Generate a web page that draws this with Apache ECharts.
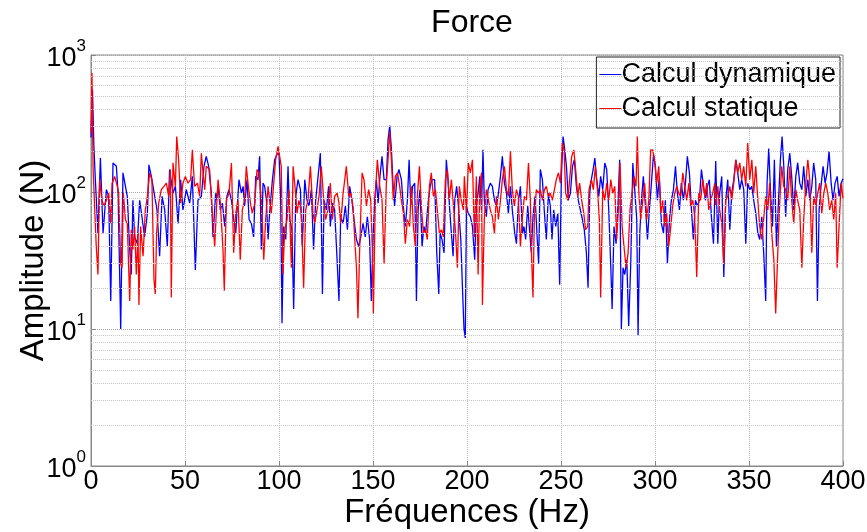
<!DOCTYPE html>
<html>
<head>
<meta charset="utf-8">
<script src="https://cdn.jsdelivr.net/npm/echarts@6/dist/echarts.min.js"></script>
<style>
  html, body { margin: 0; padding: 0; background: #fff; }
  #chart { width: 867px; height: 532px; }
</style>
</head>
<body>
<div id="chart"></div>
<script>
// values (Hz, N)
var dynFreq = [0, 0.8, 1.5, 2.3, 3.7, 5.0, 6.4, 8.2, 9.4, 10.5, 11.7, 13.5, 14.4, 15.8, 17.0, 17.9, 19.3, 20.6, 21.4, 22.3, 23.2, 24.6, 25.9, 27.1, 28.5, 30.0, 30.8, 32.1, 33.9, 35.1, 36.5, 37.8, 39.2, 40.6, 41.8, 43.6, 44.9, 46.3, 47.7, 48.9, 50.7, 52.5, 53.9, 55.5, 56.9, 58.7, 60.1, 61.3, 62.6, 64.0, 64.9, 66.3,
  66.7, 67.6, 68.8, 69.9, 71.1, 72.3, 73.4, 74.7, 75.9, 77.0, 77.7, 78.7, 80.0, 80.9, 81.7, 83.0, 84.1, 85.3, 86.5, 87.6, 88.8, 89.7, 90.6, 91.5, 92.4, 93.3, 94.2, 95.0, 96.5, 97.7, 98.9, 100.0, 100.9, 101.6, 102.5, 103.6, 104.8, 105.7, 106.9, 107.8, 108.9, 110.1, 111.4, 112.4, 113.7, 114.9, 116.0, 117.2, 118.4, 119.5, 120.8, 122.0, 123.1, 124.0, 125.2, 126.4, 127.3, 128.4, 129.6, 130.9, 131.9,
  132.8, 134.1, 135.3, 136.4, 137.6, 138.8, 139.9, 141.2, 142.4, 143.5, 144.7, 145.9, 147.0, 148.2, 149.1, 150.0, 150.9, 151.8, 152.7, 153.7, 154.8, 155.9, 157.1, 158.0, 158.9, 159.8, 160.7, 161.5, 162.8, 163.8, 165.1, 166.3, 167.2, 168.3, 169.2, 170.1, 171.1, 172.2, 173.1, 174.0, 175.0, 176.1, 177.1, 178.0, 179.3, 180.4, 181.4, 182.8, 183.9, 185.0, 185.7, 186.7, 187.8, 189.0, 189.9, 190.8, 191.7, 192.6, 193.5, 194.5, 195.6, 196.7, 197.7, 198.4, 199.1,
  199.7, 200.6, 201.8, 202.9, 204.1, 205.0, 205.9, 206.8, 207.7, 208.5, 209.2, 210.3, 211.2, 212.4, 213.5, 214.6, 215.6, 216.5, 217.8, 218.8, 219.9, 221.0, 222.0, 223.1, 224.1, 225.4, 226.3, 227.3, 228.4, 229.5, 230.3, 231.2, 232.3, 233.4, 234.2, 235.1, 236.2, 237.3, 238.1, 239.0, 240.1, 241.2, 242.2, 243.3, 244.3, 245.2, 246.1, 247.2, 248.3, 249.3, 250.2, 251.1, 252.0, 252.9, 253.9, 255.0, 256.1, 257.1, 258.2, 259.2, 260.3, 261.4, 262.4, 263.5, 264.4,
  265.3, 265.8, 267.1, 268.0, 268.8, 270.1, 271.1, 272.2, 273.3, 274.3, 275.4, 276.5, 277.2, 278.2, 279.3, 280.4, 281.2, 282.1, 283.0, 283.9, 285.0, 286.0, 287.1, 288.2, 289.2, 290.3, 291.0, 291.9, 292.8, 293.8, 294.9, 296.0, 297.0, 298.1, 299.2, 300.2, 301.3, 302.3, 303.4, 304.5, 305.5, 306.6, 307.7, 308.7, 309.8, 310.9, 311.9, 313.0, 314.0, 315.1, 316.2, 317.2, 318.3, 319.4, 320.4, 321.5, 322.6, 323.6, 324.7, 325.8, 326.8, 327.9, 328.9, 330.0, 331.1,
  332.3, 333.4, 334.4, 335.5, 336.6, 337.6, 338.7, 339.8, 340.8, 341.9, 343.0, 344.0, 345.1, 346.1, 347.2, 348.3, 349.3, 350.4, 351.5, 352.5, 353.6, 354.7, 355.7, 356.8, 357.9, 358.9, 359.6, 360.5, 361.4, 362.5, 363.5, 364.6, 365.7, 366.7, 367.6, 368.5, 369.5, 370.6, 371.7, 372.7, 373.8, 374.9, 375.9, 377.0, 378.1, 379.1, 380.2, 381.3, 382.3, 383.4, 384.4, 385.5, 386.4, 387.3, 388.3, 389.4, 390.5, 391.5, 392.6, 393.7, 394.7, 395.8, 396.9, 397.9, 399.0, 400];
var dynAmp = [250, 560, 220, 125, 50, 177, 50, 104, 93, 16, 163, 154, 98, 10, 138, 142, 93, 38, 25, 87, 47, 42, 87, 66, 47, 70, 158, 130, 93, 74, 34, 93, 74, 40, 146, 98, 110, 59, 123, 74, 104, 83, 130, 27, 87, 93, 154, 182, 154, 98, 47, 98,
  87, 110, 74, 83, 56, 93, 104, 87, 63, 50, 74, 123, 98, 110, 79, 123, 63, 59, 47, 130, 123, 182, 38, 116, 110, 87, 45, 70, 123, 172, 188, 192, 87, 11, 56, 45, 154, 63, 53, 14, 93, 123, 104, 40, 123, 87, 79, 104, 38, 87, 130, 192, 18, 87, 74, 110, 56, 83, 74, 32, 16,
  66, 59, 79, 53, 110, 87, 63, 45, 40, 47, 59, 47, 66, 45, 16, 45, 87, 123, 83, 130, 182, 123, 123, 240, 305, 203, 110, 79, 130, 146, 123, 74, 56, 87, 172, 79, 110, 116, 16, 74, 104, 40, 56, 50, 83, 110, 123, 123, 36, 18, 50, 45, 36, 172, 123, 74, 50, 34, 87, 110, 74, 45, 18, 10, 8.6,
  79, 70, 66, 56, 32, 79, 98, 130, 74, 203, 87, 66, 104, 116, 110, 87, 79, 93, 130, 182, 116, 98, 70, 110, 74, 50, 42, 83, 110, 50, 56, 45, 79, 50, 36, 66, 93, 47, 30, 146, 123, 70, 45, 98, 79, 45, 74, 56, 70, 21, 130, 254, 203, 154, 87, 98, 154, 172, 110, 87, 74, 63, 53, 36, 20,
  98, 116, 146, 177, 130, 93, 130, 104, 163, 146, 74, 28, 14, 56, 42, 87, 172, 10, 28, 25, 32, 10.5, 30, 163, 104, 63, 9, 50, 87, 130, 79, 45, 74, 116, 188, 154, 87, 130, 59, 50, 87, 30, 63, 87, 104, 154, 98, 74, 116, 87, 116, 182, 138, 74, 45, 87, 79, 87, 146, 110, 87, 110, 123, 66, 42,
  168, 42, 98, 130, 24, 87, 123, 53, 98, 123, 172, 138, 104, 123, 104, 42, 116, 104, 110, 87, 70, 50, 45, 66, 34, 16, 116, 208, 104, 56, 172, 40, 87, 172, 254, 154, 66, 146, 192, 130, 74, 130, 163, 116, 104, 154, 93, 123, 87, 110, 163, 123, 16, 74, 110, 154, 116, 138, 198, 116, 87, 116, 130, 93, 116, 125];

var statFreq = [0, 0.5, 1.1, 2.0, 2.8, 3.7, 4.6, 5.8, 6.9, 8.2, 9.4, 10.5, 11.2, 12.6, 14.0, 14.7, 15.8, 16.5, 17.2, 18.3, 19.3, 20.6, 21.4, 22.3, 23.2, 24.1, 25.0, 25.5, 26.4, 27.7, 28.9, 30.0, 31.2, 32.4, 33.5, 34.2, 34.9, 36.0, 37.4, 38.8, 40.1, 41.3, 42.2, 42.7, 43.6, 44.9, 45.6, 46.6, 47.7, 48.9, 50.2, 51.6, 53.0, 53.9, 55.1, 56.6, 57.8, 58.7, 59.6, 60.5, 61.3, 63.1, 64.4, 65.8,
  66.7, 67.6, 68.8, 70.2, 70.9, 72.0, 73.4, 74.7, 75.9, 77.0, 78.2, 79.4, 80.5, 81.7, 82.6, 83.7, 84.8, 85.8, 87.1, 88.3, 89.4, 90.6, 91.9, 92.9, 94.2, 95.0, 95.9, 97.2, 98.2, 99.5, 100.4, 101.2, 102.1, 103.0, 104.3, 105.3, 106.6, 107.5, 108.5, 109.6, 110.6, 111.9, 113.1, 114.2, 115.4, 116.7, 118.1, 119.0, 120.2, 121.3, 122.5, 123.8, 124.8, 126.1, 127.3, 128.4, 129.6, 130.9,
  131.9, 132.8, 134.1, 135.0, 135.8, 137.1, 138.1, 139.4, 140.3, 141.2, 142.0, 142.9, 144.2, 145.2, 146.5, 147.7, 148.8, 149.7, 150.2, 151.3, 152.3, 153.6, 154.8, 155.9, 157.1, 158.0, 158.9, 159.8, 160.8, 161.9, 163.0, 164.2, 165.1, 166.2, 167.2, 168.3, 169.5, 170.4, 171.5, 172.5, 173.6, 174.7, 175.7, 176.8, 177.9, 178.9, 180.0, 181.0, 182.1, 183.2, 184.2, 185.3, 186.4, 187.4, 188.5, 189.6, 190.6, 191.7, 192.8, 193.8, 194.9, 195.9, 197.0, 198.1,
  198.6, 199.7, 200.7, 201.8, 202.9, 203.9, 205.0, 205.9, 206.8, 207.7, 208.2, 209.2, 210.3, 211.4, 212.4, 213.5, 214.6, 215.6, 216.7, 217.8, 218.8, 219.9, 221.0, 222.0, 223.1, 224.1, 225.2, 226.3, 227.3, 228.4, 229.5, 230.5, 231.6, 232.7, 233.7, 234.4, 235.1, 235.8, 236.9, 237.9, 239.0, 240.1, 241.2, 242.2, 243.3, 244.3, 245.4, 246.5, 247.5, 248.6, 249.7, 250.7, 251.6, 252.5, 253.6, 254.6, 255.7, 256.8, 257.8, 258.9, 259.9, 261.0, 262.1, 263.1, 264.2,
  264.9, 266.2, 267.2, 268.3, 269.4, 270.4, 271.1, 272.2, 273.3, 274.3, 275.4, 276.5, 277.5, 278.6, 279.6, 280.7, 281.4, 282.5, 283.5, 284.6, 285.7, 286.7, 287.8, 288.9, 289.9, 290.6, 291.4, 292.4, 293.5, 294.5, 295.6, 296.7, 297.7, 298.8, 299.9, 300.9, 302.0, 303.1, 304.1, 305.2, 306.2, 307.3, 308.4, 309.4, 310.5, 311.6, 312.6, 313.7, 314.8, 315.8, 316.9, 318.0, 319.0, 320.1, 321.1, 322.2, 323.3, 324.3, 325.4, 326.5, 327.5, 328.6, 329.6, 330.7,
  331.8, 332.3, 333.4, 334.4, 335.5, 336.6, 337.6, 338.7, 339.8, 340.8, 341.9, 343.0, 344.0, 345.1, 346.1, 347.2, 348.3, 349.3, 350.4, 351.5, 352.5, 353.6, 354.7, 355.7, 356.8, 357.9, 358.9, 360.0, 361.0, 362.1, 363.2, 364.2, 365.3, 366.4, 367.4, 368.5, 369.5, 370.6, 371.7, 372.7, 373.8, 374.9, 375.9, 377.0, 378.1, 379.1, 380.2, 381.3, 382.3, 383.4, 384.4, 385.5, 386.6, 387.6, 388.7, 389.8, 390.8, 391.9, 392.9, 394.0, 395.1, 396.1, 396.9, 397.9, 399.0, 400];
var statAmp = [270, 740, 150, 74, 40, 25, 123, 87, 79, 87, 98, 59, 116, 130, 110, 98, 30, 28, 98, 63, 59, 16, 53, 38, 56, 25, 50, 15, 56, 34, 74, 93, 138, 123, 23, 18, 50, 83, 104, 110, 116, 93, 146, 17, 163, 110, 254, 172, 83, 116, 130, 116, 123, 203, 110, 116, 93, 192, 138, 104, 154, 146, 74, 40,
  74, 123, 83, 38, 19, 87, 98, 163, 36, 70, 87, 32, 74, 87, 154, 110, 83, 70, 83, 146, 138, 87, 32, 63, 110, 87, 70, 116, 172, 215, 210, 154, 25, 53, 63, 104, 28, 154, 110, 70, 87, 70, 20, 74, 87, 154, 70, 59, 74, 93, 154, 87, 63, 74, 116, 63, 93, 98,
  83, 59, 98, 123, 154, 93, 98, 79, 45, 28, 12, 38, 138, 123, 79, 104, 87, 36, 13, 98, 172, 110, 87, 30, 116, 172, 275, 172, 87, 130, 138, 110, 87, 70, 42, 63, 56, 110, 56, 40, 93, 154, 79, 50, 53, 45, 110, 138, 93, 104, 74, 50, 53, 47, 123, 146, 87, 123, 79, 53, 28, 110, 87, 74,
  130, 70, 163, 138, 172, 47, 130, 25, 110, 138, 15, 63, 104, 87, 74, 66, 50, 93, 63, 87, 123, 154, 104, 93, 198, 104, 79, 104, 93, 40, 66, 93, 87, 163, 87, 32, 17, 63, 104, 98, 104, 87, 104, 110, 93, 98, 87, 104, 123, 138, 116, 228, 203, 98, 87, 123, 182, 203, 146, 93, 116, 87, 70, 53, 56,
  104, 123, 104, 154, 104, 63, 17, 104, 87, 116, 87, 123, 98, 110, 45, 83, 163, 56, 40, 28, 36, 74, 98, 130, 110, 254, 98, 63, 87, 116, 63, 87, 203, 203, 163, 116, 154, 70, 87, 56, 70, 40, 56, 79, 98, 110, 98, 93, 138, 110, 87, 116, 79, 87, 66, 24, 98, 87, 123, 93, 116, 74, 87, 98,
  116, 79, 110, 74, 59, 30, 87, 93, 110, 87, 116, 172, 138, 163, 123, 154, 110, 228, 123, 172, 98, 154, 87, 56, 45, 66, 93, 74, 116, 50, 32, 13, 36, 87, 154, 110, 104, 87, 154, 87, 59, 104, 87, 74, 28, 63, 116, 172, 123, 36, 93, 79, 98, 116, 70, 98, 116, 98, 74, 87, 63, 98, 28, 56, 116, 90];

var xTicks = [0, 50, 100, 150, 200, 250, 300, 350, 400];
var minorGrid = [2, 3, 4, 5, 6, 7, 8, 9, 20, 30, 40, 50, 60, 70, 80, 90, 200, 300, 400, 500, 600, 700, 800, 900];

var chart = echarts.init(document.getElementById('chart'));

function pairs(xs, ys) {
  return xs.map(function (x, i) { return [x, ys[i]]; });
}

var font = 'Arial, "Liberation Sans", sans-serif';

var option = {
  backgroundColor: '#ffffff',
  animation: false,
  title: {
    text: 'Force',
    left: 467,
    textAlign: 'center',
    top: 2,
    textStyle: { fontFamily: font, fontSize: 32, fontWeight: 'normal', color: '#000' }
  },
  legend: {
    orient: 'vertical',
    right: 27,
    top: 57,
    itemGap: 7,
    itemWidth: 22,
    itemHeight: 1,
    icon: 'rect',
    padding: [4, 4, 6, 3],
    backgroundColor: '#fff',
    borderColor: '#222',
    borderWidth: 1,
    borderRadius: 0,
    textStyle: { fontFamily: font, fontSize: 27, color: '#000', padding: [0, 0, 0, -5] },
    data: ['Calcul dynamique', 'Calcul statique']
  },
  grid: {
    left: 91, right: 24, top: 55, bottom: 66,
    outerBoundsMode: 'none',
    containLabel: false,
    show: true, borderColor: '#888', borderWidth: 1, backgroundColor: 'transparent'
  },
  xAxis: {
    type: 'value',
    min: xTicks[0],
    max: xTicks[xTicks.length - 1],
    interval: 50,
    name: 'Fréquences (Hz)',
    nameLocation: 'middle',
    nameGap: 30,
    nameMoveOverlap: false,
    nameTextStyle: { fontFamily: font, fontSize: 33, color: '#000' },
    axisLine: { lineStyle: { color: '#888' } },
    axisTick: { inside: true, length: 5, lineStyle: { color: '#888' } },
    axisLabel: { fontFamily: font, fontSize: 27, color: '#000', margin: 2 },
    splitLine: { show: true, lineStyle: { type: 'dotted', color: '#bbb' } }
  },
  yAxis: {
    type: 'log',
    logBase: 10,
    min: 1,
    max: 1000,
    name: 'Amplitude (N)',
    nameLocation: 'middle',
    nameGap: 41,
    nameMoveOverlap: false,
    nameTextStyle: { fontFamily: font, fontSize: 33, color: '#000' },
    axisLine: { show: true, lineStyle: { color: '#888' } },
    axisTick: { inside: true, length: 5, lineStyle: { color: '#888' } },
    axisLabel: {
      margin: 5,
      formatter: function (v) {
        return '{b|10}{s|' + Math.round(Math.log10(v)) + '}';
      },
      rich: {
        b: { fontFamily: font, fontSize: 27, color: '#000', lineHeight: 34, verticalAlign: 'bottom' },
        s: { fontFamily: font, fontSize: 17, color: '#000', lineHeight: 34, verticalAlign: 'top' }
      }
    },
    splitLine: { show: true, lineStyle: { type: 'dotted', color: '#aaa' } }
  },
  series: [
    {
      name: 'Calcul dynamique',
      type: 'line',
      showSymbol: false,
      color: '#0000ff',
      lineStyle: { width: 1.3, color: '#0000ff' },
      data: pairs(dynFreq, dynAmp),
      markLine: {
        silent: true,
        symbol: 'none',
        label: { show: false },
        lineStyle: { type: 'dotted', color: '#c8c8c8', width: 1 },
        data: minorGrid.map(function (v) { return { yAxis: v }; })
      },
      z: 2
    },
    {
      name: 'Calcul statique',
      type: 'line',
      showSymbol: false,
      color: '#ff0000',
      lineStyle: { width: 1.3, color: '#ff0000' },
      data: pairs(statFreq, statAmp),
      z: 3
    }
  ]
};

chart.setOption(option);
</script>
</body>
</html>
